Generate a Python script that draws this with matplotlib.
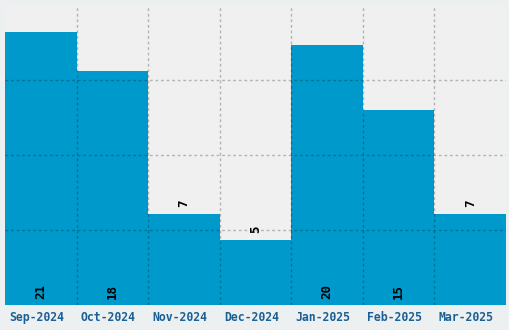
import numpy as np
import matplotlib
matplotlib.use('Agg')
import matplotlib.pyplot as plt
import matplotlib.transforms as mtransforms

months = ['Sep-2024', 'Oct-2024', 'Nov-2024', 'Dec-2024', 'Jan-2025', 'Feb-2025', 'Mar-2025']
counts = [21, 18, 7, 5, 20, 15, 7]

bar_color = '#0099cc'
label_color = '#1a5f96'

fig = plt.figure(figsize=(5.1, 3.3), dpi=100, facecolor='#edf0f1')
ax = fig.add_axes([5 / 510, 25 / 330, 501 / 510, 300 / 330])
ax.set_facecolor('#f0f0f0')

x = np.arange(len(months))
ax.bar(x, counts, width=1.0, color=bar_color, zorder=1)

ymax = max(counts) * 1.1
ax.set_xlim(-0.5, len(months) - 0.5)
ax.set_ylim(0, ymax)

# grid on bar boundaries and quarter heights, drawn over bars
ax.set_xticks(x)
ax.set_xticklabels(months, family='DejaVu Sans Mono', fontweight='bold', fontsize=8.3, color=label_color)
ax.set_xticks(np.arange(0.5, len(months) - 1, 1.0), minor=True)
ax.set_yticks(np.linspace(0, ymax, 5)[1:-1])
ax.set_yticklabels([])
ax.tick_params(axis='both', which='both', length=0)
ax.tick_params(axis='x', pad=4)
ax.set_axisbelow(False)
ax.grid(True, which='minor', axis='x', color='black', alpha=0.25, linestyle=(0, (2, 2)), linewidth=1)
ax.grid(True, which='major', axis='y', color='black', alpha=0.25, linestyle=(0, (2, 2)), linewidth=1)

shift = mtransforms.ScaledTranslation(-4 / 100, 0, fig.dpi_scale_trans)
for lab in ax.get_xticklabels():
    lab.set_transform(lab.get_transform() + shift)

for s in ax.spines.values():
    s.set_visible(False)

for xi, v in zip(x, counts):
    if v >= 10:
        ax.text(xi, ymax * 0.02, str(v), rotation=90, ha='center', va='bottom',
                family='DejaVu Sans Mono', fontweight='bold', fontsize=9, color='black')
    else:
        ax.text(xi, v + ymax * 0.022, str(v), rotation=90, ha='center', va='bottom',
                family='DejaVu Sans Mono', fontweight='bold', fontsize=9, color='black')

fig.savefig('out.png', dpi=100, facecolor=fig.get_facecolor())
